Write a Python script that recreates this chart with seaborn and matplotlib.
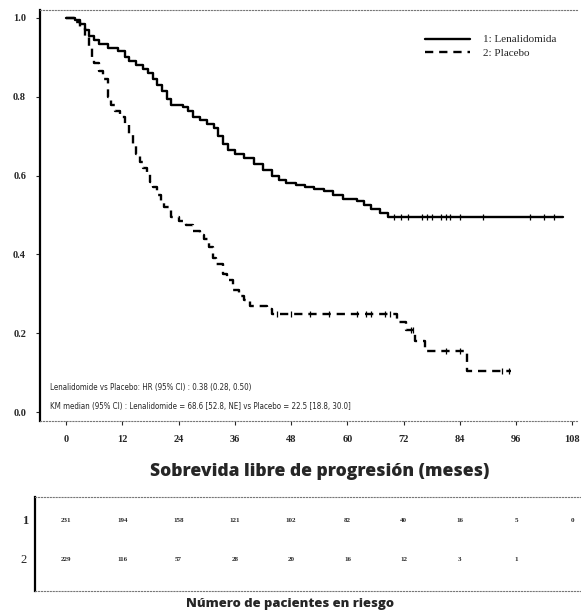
import numpy as np
import pandas as pd
import matplotlib
matplotlib.use('Agg')
import matplotlib.pyplot as plt
import seaborn as sns

# datos de la curva (meses, supervivencia libre de progresion)
len_t = [0, 2, 3, 4, 5, 6, 7, 9, 11, 12.5, 13.5, 15, 16.5, 17.5, 18.5, 19.5, 20.5, 21.5,
         22.5, 25, 26, 27, 28.5, 30, 31.5, 32.5, 33.5, 34.5, 36, 38, 40, 42, 44, 45.5,
         47, 49, 51, 53, 55, 57, 59, 62, 63.5, 65, 67, 68.6, 106]
len_s = [1.0, 0.995, 0.985, 0.97, 0.955, 0.945, 0.935, 0.925, 0.915, 0.9, 0.89, 0.88, 0.87,
         0.86, 0.845, 0.83, 0.815, 0.795, 0.78, 0.775, 0.765, 0.75, 0.74, 0.73, 0.72, 0.70,
         0.68, 0.665, 0.655, 0.645, 0.63, 0.615, 0.6, 0.59, 0.58, 0.575, 0.57, 0.565, 0.56,
         0.55, 0.54, 0.535, 0.525, 0.515, 0.505, 0.495, 0.495]
pla_t = [0, 2, 3, 4, 5, 5.5, 6, 7, 8, 9, 9.5, 10.5, 11.5, 12.5, 13.5, 14.3, 15, 15.8, 16.5,
         17.2, 18, 18.6, 19.5, 20.2, 21, 22.5, 24, 25.5, 27, 28.5, 29.5, 30.5, 31.3, 32,
         33.5, 34.3, 35.6, 37, 38, 39.2, 42.8, 44, 70.5, 72.5, 74.5, 76.5, 85.5, 95]
pla_s = [1.0, 0.99, 0.975, 0.955, 0.93, 0.9, 0.885, 0.865, 0.845, 0.8, 0.78, 0.765, 0.75,
         0.73, 0.705, 0.68, 0.655, 0.635, 0.62, 0.605, 0.585, 0.57, 0.55, 0.535, 0.52, 0.495,
         0.485, 0.475, 0.46, 0.45, 0.44, 0.42, 0.39, 0.375, 0.35, 0.335, 0.31, 0.295, 0.285,
         0.268, 0.262, 0.25, 0.228, 0.208, 0.18, 0.155, 0.105, 0.105]

# censuras
len_cens = [70, 71.5, 73, 76, 77, 78, 80, 81, 82, 84, 89, 99, 102, 104]
pla_cens = [45, 48, 52, 56, 62, 64, 65, 68, 69, 73.5, 74, 81, 84, 93, 94.5]

meses = list(range(0, 109, 12))
riesgo_1 = [231, 194, 158, 121, 102, 82, 40, 16, 5, 0]
riesgo_2 = [229, 116, 57, 28, 20, 16, 12, 3, 1]

df_len = pd.DataFrame({'mes': len_t, 'sv': len_s})
df_pla = pd.DataFrame({'mes': pla_t, 'sv': pla_s})


def nivel(tiempos, valores, t):
    i = np.searchsorted(tiempos, t, side='right') - 1
    return np.array(valores)[i]


sns.set_style('white')
serif = ['Liberation Serif', 'DejaVu Serif']
narrow = ['Liberation Sans Narrow', 'DejaVu Sans']
bold_sans = ['Open Sans', 'DejaVu Sans']

fig = plt.figure(figsize=(5.81, 6.15), dpi=100)
ax = fig.add_axes([40/581, 1 - 421/615, 538/581, 411/615])

sns.lineplot(data=df_len, x='mes', y='sv', color='black', lw=1.7, drawstyle='steps-post',
             estimator=None, label='1: Lenalidomida', ax=ax)
sns.lineplot(data=df_pla, x='mes', y='sv', color='black', lw=1.7, drawstyle='steps-post',
             estimator=None, linestyle=(0, (3.5, 2.5)), label='2: Placebo', ax=ax)
sns.scatterplot(x=len_cens, y=nivel(len_t, len_s, len_cens), marker='|', s=18,
                color='black', linewidth=0.9, ax=ax, legend=False)
sns.scatterplot(x=pla_cens, y=nivel(pla_t, pla_s, pla_cens), marker='|', s=18,
                color='black', linewidth=0.9, ax=ax, legend=False)

ax.set_xlim(-5.54, 109.2)
ax.set_ylim(-0.0228, 1.0203)
ax.set_xticks(meses)
ax.set_yticks([0, 0.2, 0.4, 0.6, 0.8, 1.0])
ax.set_yticklabels([f'{v:.1f}' for v in [0, 0.2, 0.4, 0.6, 0.8, 1.0]])
ax.set_xlabel('')
ax.set_ylabel('')
ax.tick_params(direction='out', length=3, width=0.8, labelsize=7.5, pad=7,
               left=True, bottom=True)
for lab in ax.get_xticklabels() + ax.get_yticklabels():
    lab.set_family(serif)
    lab.set_fontweight('bold')

ax.spines['left'].set_linewidth(1.6)
ax.spines['left'].set_color('black')
for s in ['top', 'bottom']:
    ax.spines[s].set_linestyle(':')
    ax.spines[s].set_color('#777777')
    ax.spines[s].set_linewidth(0.8)
ax.spines['right'].set_visible(False)

ax.legend(loc='upper left', bbox_to_anchor=(0.716, 0.94), frameon=False,
          prop={'family': serif, 'size': 8}, handlelength=4.0, handletextpad=1.2,
          labelspacing=0.3, borderpad=0, borderaxespad=0)

ax.text(-3.4, 0.061, 'Lenalidomide vs Placebo: HR (95% CI) : 0.38 (0.28, 0.50)',
        family=narrow, fontstretch='condensed', fontsize=5.7, va='center', ha='left')
ax.text(-3.4, 0.013,
        'KM median (95% CI) : Lenalidomide = 68.6 [52.8, NE] vs Placebo = 22.5 [18.8, 30.0]',
        family=narrow, fontstretch='condensed', fontsize=5.7, va='center', ha='left')

fig.text(320/581, 1 - 472/615, 'Sobrevida libre de progresión (meses)', family=bold_sans,
         fontweight=800, fontsize=12.6, ha='center', va='center')

# tabla de pacientes en riesgo
tax = fig.add_axes([35/581, 1 - 591/615, 546/581, 94/615])
tax.set_xlim(-6.61, 109.8)
tax.set_ylim(0, 1)
tax.set_xticks([])
tax.set_yticks([])
tax.spines['left'].set_linewidth(1.6)
tax.spines['left'].set_color('black')
for s in ['top', 'bottom']:
    tax.spines[s].set_linestyle(':')
    tax.spines[s].set_color('#777777')
    tax.spines[s].set_linewidth(0.8)
tax.spines['right'].set_visible(False)

for m, n in zip(meses, riesgo_1):
    tax.text(m, 0.745, str(n), family=serif, fontsize=5, fontweight='bold',
             ha='center', va='center')
for m, n in zip(meses, riesgo_2):
    tax.text(m, 0.33, str(n), family=serif, fontsize=5, fontweight='bold',
             ha='center', va='center')
tax.text(-8.7, 0.745, '1', family=serif, fontsize=9, fontweight='bold', ha='center',
         va='center', clip_on=False)
tax.text(-9.1, 0.33, '2', family=serif, fontsize=9, ha='center', va='center', clip_on=False)

fig.text(290/581, 1 - 604/615, 'Número de pacientes en riesgo', family=bold_sans,
         fontweight=800, fontsize=9.4, ha='center', va='center')

fig.savefig('out.png', dpi=100)
